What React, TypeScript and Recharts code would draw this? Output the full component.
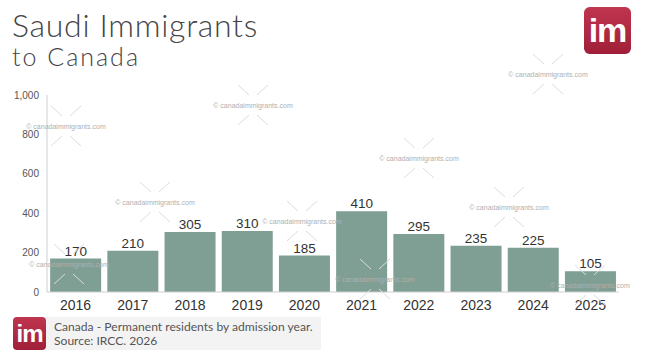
import React from "react";
import { BarChart, Bar, XAxis, YAxis, LabelList } from "recharts";

const years = ["2016", "2017", "2018", "2019", "2020", "2021", "2022", "2023", "2024", "2025"];
const immigrants = [170, 210, 305, 310, 185, 410, 295, 235, 225, 105];
const yTicks = [0, 200, 400, 600, 800, 1000];

const data = years.map((year, i) => ({ year, value: immigrants[i] }));

const watermarkSpots: [number, number][] = [
  [66, 126], [155, 202], [69, 264], [253, 105], [302, 221],
  [419, 158], [375, 279], [509, 207], [548, 74], [590, 285],
];

const titleFont = "Lato, 'Open Sans', sans-serif";
const numFont = "'Liberation Sans', Arial, sans-serif";

function Watermarks() {
  return (
    <svg width={645} height={363} style={{ position: "absolute", left: 0, top: 0, pointerEvents: "none" }}>
      {watermarkSpots.map(([cx, cy], i) => (
        <g key={i}>
          <g stroke="#dcdcdc" strokeWidth={1}>
            <line x1={cx - 15} y1={cy - 20} x2={cx - 4} y2={cy - 10} />
            <line x1={cx + 15} y1={cy - 20} x2={cx + 4} y2={cy - 10} />
            <line x1={cx - 15} y1={cy + 20} x2={cx - 4} y2={cy + 10} />
            <line x1={cx + 15} y1={cy + 20} x2={cx + 4} y2={cy + 10} />
          </g>
          <text x={cx} y={cy + 2.5} textAnchor="middle" fontSize={7} fontFamily={numFont} fill="#b0b0b0">
            © canadaimmigrants.com
          </text>
        </g>
      ))}
    </svg>
  );
}

function Logo({ left, top, size, fontSize }: { left: number; top: number; size: number; fontSize: number }) {
  return (
    <div
      style={{
        position: "absolute",
        left,
        top,
        width: size,
        height: size,
        borderRadius: size * 0.12,
        background: "linear-gradient(#c0354f, #a01f38)",
        color: "#fff",
        fontFamily: numFont,
        fontWeight: 700,
        fontSize,
        lineHeight: `${size}px`,
        textAlign: "center",
        letterSpacing: -1,
      }}
    >
      im
    </div>
  );
}

export default function App() {
  return (
    <div style={{ position: "relative", width: 645, height: 363, background: "#fff", overflow: "hidden" }}>
      <style>{`body{margin:0}`}</style>
      <div
        style={{
          position: "absolute",
          left: 12,
          top: 9,
          fontFamily: titleFont,
          fontWeight: 300,
          fontSize: 32,
          color: "#444",
          lineHeight: "32px",
          whiteSpace: "nowrap",
          letterSpacing: 0.7,
        }}
      >
        Saudi Immigrants
      </div>
      <div
        style={{
          position: "absolute",
          left: 12,
          top: 46,
          fontFamily: titleFont,
          fontWeight: 300,
          fontSize: 25,
          color: "#444",
          lineHeight: "20px",
          whiteSpace: "nowrap",
          letterSpacing: 2,
        }}
      >
        to Canada
      </div>
      <Logo left={584} top={7} size={47} fontSize={34} />

      <div style={{ position: "absolute", left: 0, top: 0 }}>
        <BarChart width={645} height={363} data={data} margin={{ top: 95, right: 26, bottom: 41, left: 7 }} barCategoryGap="5.5%">
          <XAxis
            dataKey="year"
            axisLine={{ stroke: "#cfcfcf" }}
            tickLine={false}
            tick={{ fontSize: 14, fill: "#333", fontFamily: numFont }}
            interval={0}
          />
          <YAxis
            width={40}
            domain={[0, 1000]}
            ticks={yTicks}
            axisLine={{ stroke: "#cfcfcf" }}
            tickLine={false}
            tick={{ fontSize: 10, fill: "#555", fontFamily: numFont }}
            tickFormatter={(v: number) => v.toLocaleString("en-US")}
          />
          <Bar dataKey="value" fill="#7f9e94" isAnimationActive={false}>
            <LabelList dataKey="value" position="top" offset={3} style={{ fontSize: 13.5, fill: "#333", fontFamily: numFont }} />
          </Bar>
        </BarChart>
      </div>

      <Watermarks />

      <div style={{ position: "absolute", left: 46, top: 317, width: 275, height: 33, background: "#f3f3f3" }} />
      <Logo left={13} top={317} size={33} fontSize={24} />
      <div
        style={{
          position: "absolute",
          left: 54,
          top: 320,
          fontFamily: titleFont,
          fontWeight: 400,
          fontSize: 12.1,
          color: "#555",
          lineHeight: "13.5px",
          whiteSpace: "nowrap",
        }}
      >
        <div>Canada - Permanent residents by admission year.</div>
        <div>Source: IRCC. 2026</div>
      </div>
    </div>
  );
}
